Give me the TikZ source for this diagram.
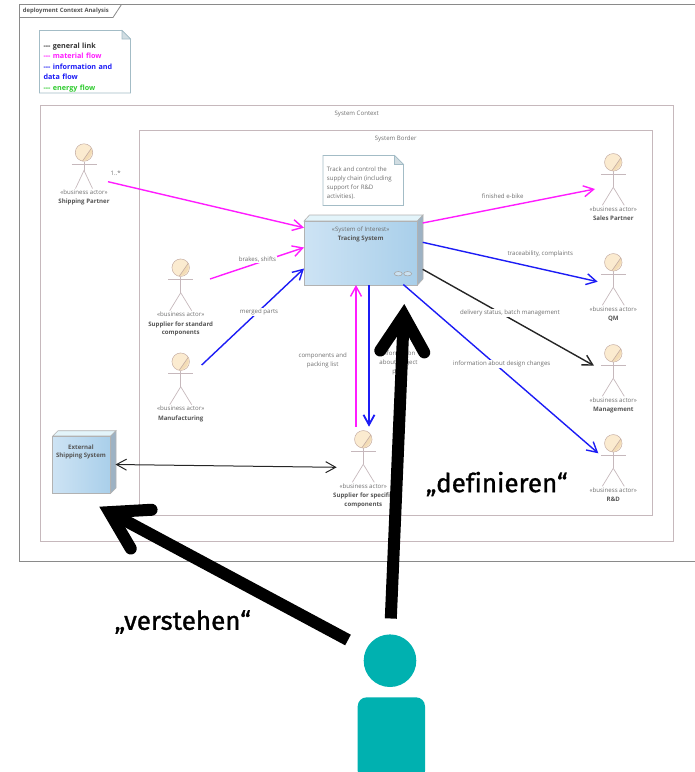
\documentclass[tikz,border=0pt]{standalone}
\usepackage{fontspec}
\setmainfont{Open Sans}
\newfontfamily\talkfont[FakeBold=1.1,Ligatures=NoCommon]{Fira Sans}
\usetikzlibrary{arrows.meta}

\definecolor{framegray}{HTML}{8A8A8A}
\definecolor{boxgray}{HTML}{C6B8BC}
\definecolor{notegray}{HTML}{A3BCC6}
\definecolor{labelgray}{HTML}{6E6E6E}
\definecolor{namegray}{HTML}{555555}
\definecolor{flowmagenta}{HTML}{FF1CFF}
\definecolor{flowblue}{HTML}{1C1CF5}
\definecolor{flowgreen}{HTML}{2FCB2F}
\definecolor{personteal}{HTML}{00B1B0}
\definecolor{faceleft}{HTML}{CDE3F4}
\definecolor{faceright}{HTML}{A9CFEA}
\definecolor{facetop}{HTML}{E3F4FA}
\definecolor{faceside}{HTML}{9DB2C4}
\definecolor{headlight}{HTML}{FBEBD0}
\definecolor{headdark}{HTML}{F3DCB6}

\tikzset{
    smalltext/.style={font=\fontsize{6.1}{9}\selectfont,text=labelgray,inner sep=0pt,align=center,yshift=-1pt},
    nametext/.style={font=\fontsize{6.1}{8.8}\selectfont\bfseries,text=namegray,inner sep=0pt,align=center,yshift=-1pt},
    linklabel/.style={smalltext,fill=white,inner sep=1pt},
    flowlink/.style={line width=1.4pt,-{Straight Barb[length=10pt,width=11pt]}},
    bigarrow/.style={black,line width=12pt,-{Straight Barb[length=36pt,width=44pt,line cap=round,line join=miter]}},
    actorline/.style={draw=boxgray,line width=0.7pt},
    actorhead/.style={circle,draw=boxgray!80!brown,line width=0.5pt,fill=headlight,minimum size=17.5pt,inner sep=0pt},
    nodeface/.style={left color=faceleft,right color=faceright,draw=gray!60,line width=0.6pt}
}

\newcommand{\bizactor}[6][43]{
    \node[actorhead] (#2) at (#3,#4) {};
    \fill[headdark] (#3+7.6,#4-4.5) to[bend left=55] (#3-1.5,#4+8.6) -- cycle;
    \draw[boxgray!80!brown,line width=0.6pt] (#3+7.6,#4-4.5) -- (#3-1.5,#4+8.6);
    \draw[actorline] (#3-12.5,#4+12) -- (#3+12.5,#4+12);
    \draw[actorline] (#2.south) -- (#3,#4+#1-18);
    \draw[actorline] (#3-#5,#4+#1) -- (#3,#4+#1-18) -- (#3+#5,#4+#1);
    \node[smalltext] (#2stereo) at (#3,#4+#1+2.9) {«business actor»};
    \node[nametext,anchor=north] (#2name) at (#3,#4+#1+9.5) {#6};
}

\begin{document}
\begin{tikzpicture}[x=1pt,y=-1pt]
    \useasboundingbox (0,0) rectangle (695,772);

    % frame and the two boundaries
    \draw[framegray,line width=0.8pt] (695,4.5) -- (19.5,4.5) -- (19.5,561.5) -- (695,561.5);
    \draw[framegray,line width=0.8pt] (19.5,17.5) -- (113,17.5) -- (121.5,4.5);
    \node[font=\fontsize{5.9}{8}\selectfont\bfseries,text=namegray,inner sep=0pt,anchor=west] (title) at (22.7,10.6) {deployment Context Analysis};

    \draw[boxgray,line width=0.8pt] (40,105.5) rectangle (673.5,541.5);
    \draw[boxgray,line width=0.8pt] (139.5,130.5) rectangle (652,515);
    \node[smalltext] (context) at (356.7,112.7) {System Context};
    \node[smalltext] (border) at (395.7,137.7) {System Border};

    % legend
    \draw[notegray,fill=white,line width=0.8pt] (39.5,30.5) -- (122,30.5) -- (130.5,39) -- (130.5,93) -- (39.5,93) -- cycle;
    \draw[notegray,fill=notegray!50,line width=0.6pt] (122,30.5) -- (130.5,39) -- (122,39) -- cycle;
    \node[font=\fontsize{7.2}{10.4}\selectfont\bfseries,inner sep=0pt,anchor=north west,align=left,text width=85pt] (legend) at (43.3,42.8) {%
        \textcolor{black!80}{-{}-{}- general link}\\
        \textcolor{flowmagenta}{-{}-{}- material flow}\\
        \textcolor{flowblue}{-{}-{}- information and}\\
        \textcolor{flowblue}{data flow}\\
        \textcolor{flowgreen}{-{}-{}- energy flow}};

    % note
    \draw[notegray,fill=white,line width=0.8pt] (323,155.5) -- (394.5,155.5) -- (403.5,164.5) -- (403.5,205.5) -- (323,205.5) -- cycle;
    \draw[notegray,fill=notegray!50,line width=0.6pt] (394.5,155.5) -- (403.5,164.5) -- (394.5,164.5) -- cycle;
    \node[smalltext,anchor=north west,align=left] (notetext) at (326.7,166) {Track and control the\\supply chain (including\\support for R\&D\\activities).};

    % the two deployment nodes
    \fill[facetop,draw=gray!60,line width=0.6pt] (304,221) -- (309.5,215) -- (423,215) -- (417.5,221) -- cycle;
    \fill[faceside,draw=gray!60,line width=0.6pt] (417.5,221) -- (423,215) -- (423,279) -- (417.5,285) -- cycle;
    \path[nodeface] (304,221) rectangle (417.5,285);
    \node[smalltext] (tracestereo) at (360.7,228.7) {«System of Interest»};
    \node[nametext] (tracing) at (360.7,238) {Tracing System};
    \draw[gray!70,line width=0.6pt,fill=faceright!60!white] (398.3,273.7) ellipse (4 and 2.2);
    \draw[gray!70,line width=0.6pt,fill=faceright!60!white] (407.7,273.7) ellipse (4 and 2.2);

    \fill[facetop,draw=gray!60,line width=0.6pt] (52.7,436) -- (58,430.7) -- (116,430.7) -- (110.7,436) -- cycle;
    \fill[faceside,draw=gray!60,line width=0.6pt] (110.7,436) -- (116,430.7) -- (116,488) -- (110.7,493.3) -- cycle;
    \path[nodeface] (52.7,436) rectangle (110.7,493.3);
    \node[nametext] (external) at (81,451) {External\\Shipping System};

    % link ends
    \coordinate (SP) at (108,181.7);
    \coordinate (SPin) at (304,227.7);
    \coordinate (ST) at (210,279);
    \coordinate (STin) at (304,247.5);
    \coordinate (MF) at (201.7,365);
    \coordinate (MFin) at (304,268.5);
    \coordinate (TSa) at (422.7,223);
    \coordinate (TSb) at (422.7,242.3);
    \coordinate (TSc) at (422.7,269.3);
    \coordinate (TSd) at (403.3,284.5);
    \coordinate (SAin) at (595,189);
    \coordinate (QMin) at (597.7,281.7);
    \coordinate (MGin) at (594,365.7);
    \coordinate (RDin) at (598.3,453.3);
    \coordinate (SSa) at (356,426.7);
    \coordinate (TSe) at (356,285);
    \coordinate (TSf) at (369,285);
    \coordinate (SSb) at (369,426.7);
    \coordinate (ESin) at (115.5,464.5);
    \coordinate (SSc) at (336.7,467.3);

    \draw[flowlink,flowmagenta] (SP) -- (SPin);
    \draw[flowlink,flowmagenta] (ST) -- (STin);
    \draw[flowlink,flowblue] (MF) -- (MFin);
    \draw[flowlink,flowmagenta] (TSa) -- (SAin);
    \draw[flowlink,flowblue] (TSb) -- (QMin);
    \draw[flowlink,black!85] (TSc) -- (MGin);
    \draw[flowlink,flowblue] (TSd) -- (RDin);
    \draw[flowlink,flowmagenta] (SSa) -- (TSe);
    \draw[flowlink,flowblue,line width=1.8pt] (TSf) -- (SSb);
    \draw[black!85,line width=1pt,{Straight Barb[length=10pt,width=11pt]}-{Straight Barb[length=10pt,width=11pt]}] (ESin) -- (SSc);

    \node[smalltext] (multi) at (115.7,172.5) {1..*};
    \node[linklabel] (brakes) at (257.5,258.5) {brakes, shifts};
    \node[linklabel] (merged) at (259,311) {merged parts};
    \node[smalltext] (ebike) at (502.7,194.7) {finished e-bike};
    \node[smalltext] (complaints) at (540.3,252.7) {traceability, complaints};
    \node[linklabel] (delivery) at (510,312) {delivery status, batch management};
    \node[linklabel] (design) at (501.7,362.7) {information about design changes};
    \node[smalltext] (packing) at (322.7,359.2) {components and\\packing list};
    \node[smalltext] (project) at (398.5,362.3) {information\\about project\\plan};

    % actors
    \bizactor[36]{shipping}{84}{152.5}{8.5}{Shipping Partner}
    \bizactor{standard}{180.7}{267.7}{11}{Supplier for standard\\components}
    \bizactor{manufacturing}{180.7}{361.7}{11}{Manufacturing}
    \bizactor{specific}{363.3}{439.3}{11}{Supplier for specific\\components}
    \bizactor{sales}{613.3}{162.3}{11}{Sales Partner}
    \bizactor{qm}{613.3}{262.3}{11}{QM}
    \bizactor{management}{613.3}{353.3}{11}{Management}
    \bizactor{rd}{613.3}{443.3}{11}{R\&D}

    % person and the two big arrows
    \coordinate (PA) at (390.8,618.5);
    \coordinate (PB) at (348,640);
    \coordinate (TSbig) at (404.3,304);
    \coordinate (ESbig) at (99.3,506.7);

    \draw[bigarrow] (PA) -- (TSbig);
    \draw[bigarrow] (PB) -- (ESbig);

    \node[circle,fill=personteal,minimum size=52.6pt,inner sep=0pt] (personhead) at (390,660.7) {};
    \fill[personteal,rounded corners=9pt] (357.7,780) -- (357.7,697.3) -- (425,697.3) -- (425,780) -- cycle;

    \node[font=\talkfont\fontsize{26}{30}\selectfont] (verstehen) at (182.7,622) {„verstehen“};
    \node[font=\talkfont\fontsize{26}{30}\selectfont] (definieren) at (496.7,484) {„definieren“};
\end{tikzpicture}
\end{document}
